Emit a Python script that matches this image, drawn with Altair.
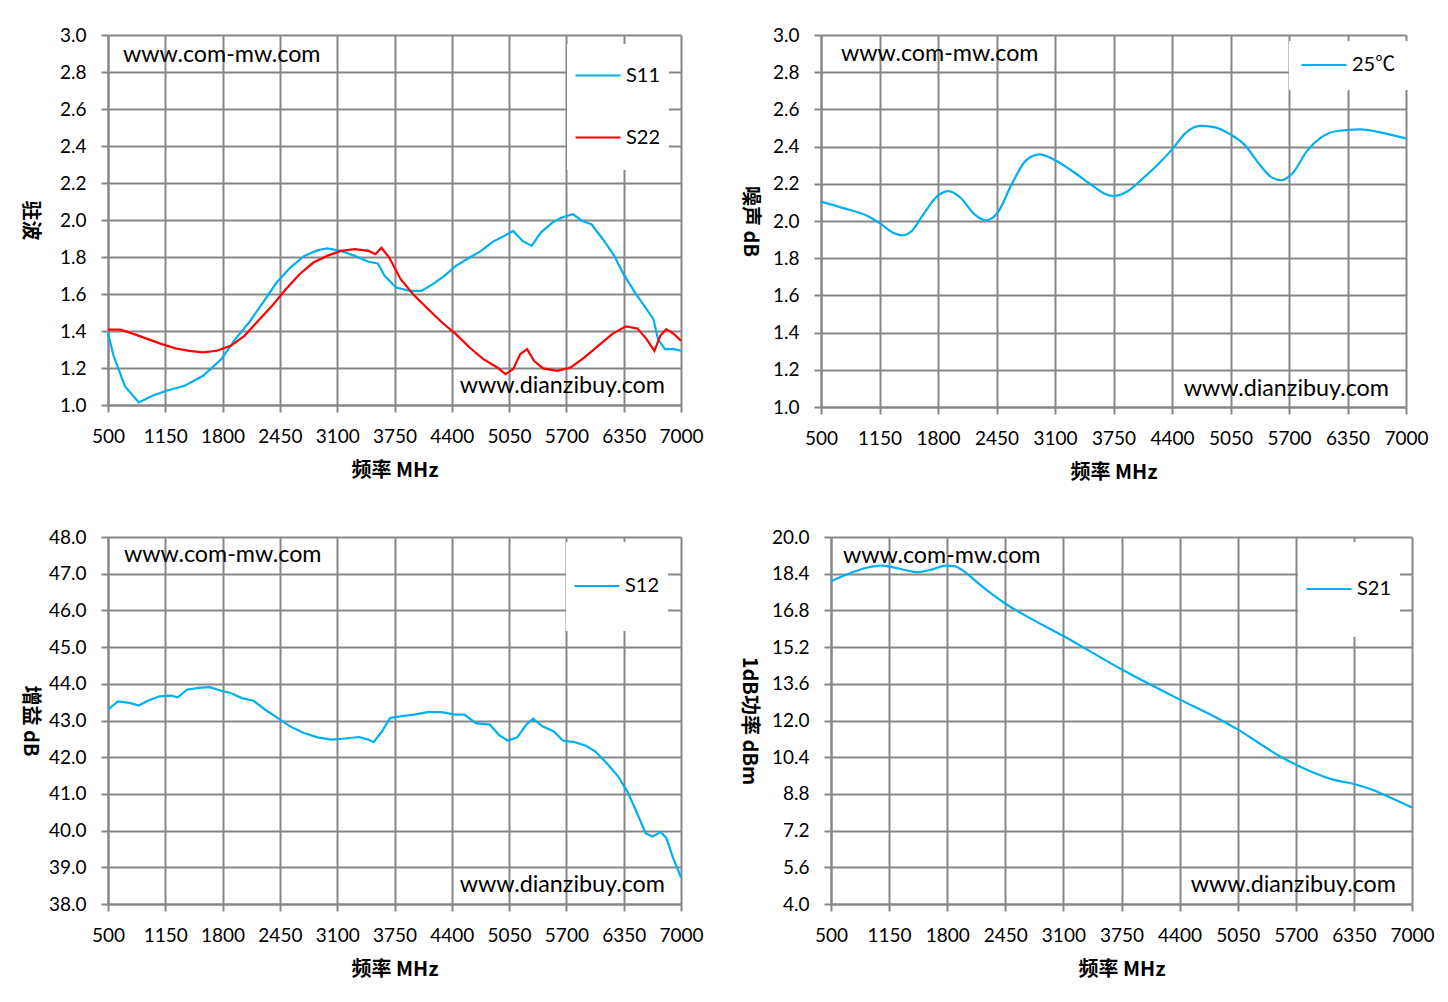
import altair as alt
import pandas as pd

# ---------------- data ----------------
X_TICKS = [500, 1150, 1800, 2450, 3100, 3750, 4400, 5050, 5700, 6350, 7000]

S11_F = [500, 563, 693, 849, 1006, 1162, 1370, 1579, 1787, 1944, 2100, 2257, 2413, 2569, 2726,
         2882, 2986, 3143, 3299, 3455, 3560, 3638, 3768, 3925, 4055, 4185, 4316, 4446, 4602,
         4733, 4863, 4993, 5097, 5202, 5306, 5410, 5540, 5645, 5775, 5880, 5984, 6114, 6244,
         6348, 6479, 6609, 6687, 6739, 6818, 6922, 7000]
S11_V = [1.39, 1.266, 1.10, 1.014, 1.05, 1.077, 1.104, 1.158, 1.248, 1.356, 1.446, 1.554, 1.662,
         1.743, 1.806, 1.837, 1.846, 1.833, 1.806, 1.774, 1.765, 1.698, 1.635, 1.617, 1.617,
         1.653, 1.698, 1.752, 1.797, 1.833, 1.882, 1.914, 1.941, 1.887, 1.86, 1.932, 1.986,
         2.013, 2.031, 1.995, 1.977, 1.896, 1.806, 1.707, 1.608, 1.518, 1.464, 1.356, 1.302,
         1.302, 1.293]

S22_F = [500, 641, 797, 953, 1110, 1266, 1423, 1579, 1735, 1892, 2048, 2204, 2361, 2517, 2673,
         2830, 2986, 3143, 3299, 3455, 3534, 3601, 3690, 3820, 3977, 4133, 4290, 4446, 4602,
         4758, 4915, 5009, 5097, 5176, 5254, 5332, 5436, 5593, 5749, 5905, 6061, 6218, 6374,
         6505, 6609, 6698, 6765, 6833, 6922, 7000]
S22_V = [1.407, 1.407, 1.383, 1.356, 1.329, 1.306, 1.293, 1.284, 1.293, 1.32, 1.374, 1.455, 1.536,
         1.626, 1.707, 1.77, 1.806, 1.833, 1.842, 1.833, 1.815, 1.85, 1.797, 1.68, 1.59, 1.518,
         1.446, 1.383, 1.311, 1.248, 1.203, 1.167, 1.194, 1.275, 1.302, 1.239, 1.198, 1.185,
         1.203, 1.257, 1.32, 1.383, 1.425, 1.414, 1.356, 1.293, 1.374, 1.41, 1.383, 1.347]

NF_F = [500, 758, 1017, 1172, 1301, 1404, 1508, 1637, 1792, 1921, 2050, 2205, 2334, 2463, 2618,
        2773, 2928, 3083, 3290, 3497, 3652, 3755, 3910, 4065, 4246, 4401, 4556, 4711, 4866,
        5047, 5202, 5357, 5512, 5615, 5744, 5899, 6054, 6235, 6493, 6700, 7000]
NF_V = [2.104, 2.068, 2.027, 1.982, 1.937, 1.923, 1.946, 2.036, 2.134, 2.161, 2.125, 2.036, 2.004,
        2.045, 2.197, 2.323, 2.358, 2.332, 2.269, 2.197, 2.147, 2.134, 2.161, 2.224, 2.305,
        2.385, 2.475, 2.511, 2.505, 2.466, 2.412, 2.314, 2.233, 2.219, 2.26, 2.376, 2.448,
        2.484, 2.493, 2.478, 2.444]

S12_F = [500, 614, 745, 849, 953, 1083, 1213, 1291, 1395, 1525, 1655, 1785, 1889, 2019, 2150,
         2280, 2410, 2566, 2722, 2878, 3034, 3190, 3347, 3451, 3513, 3607, 3700, 3815, 3971,
         4127, 4283, 4439, 4543, 4674, 4830, 4934, 5038, 5142, 5246, 5324, 5428, 5558, 5662,
         5792, 5922, 6026, 6156, 6286, 6390, 6494, 6599, 6677, 6771, 6833, 6911, 7000]
S12_V = [43.30, 43.52, 43.48, 43.41, 43.54, 43.66, 43.68, 43.63, 43.84, 43.89, 43.91, 43.81, 43.75,
         43.61, 43.54, 43.30, 43.09, 42.84, 42.66, 42.54, 42.48, 42.51, 42.55, 42.48, 42.41,
         42.70, 43.07, 43.11, 43.16, 43.23, 43.23, 43.16, 43.16, 42.93, 42.89, 42.61, 42.45,
         42.54, 42.89, 43.05, 42.84, 42.70, 42.45, 42.41, 42.31, 42.16, 41.84, 41.48, 41.07,
         40.52, 39.93, 39.84, 39.96, 39.80, 39.25, 38.73]

S21_F = [500, 718, 926, 1056, 1185, 1341, 1471, 1627, 1782, 1886, 1990, 2146, 2302, 2457, 2691,
         3106, 3366, 3755, 4404, 4820, 5053, 5287, 5521, 5703, 5910, 6118, 6351, 6585, 6767, 7000]
S21_V = [18.07, 18.43, 18.68, 18.75, 18.69, 18.55, 18.47, 18.58, 18.75, 18.72, 18.50, 17.99, 17.51,
         17.08, 16.54, 15.67, 15.09, 14.22, 12.91, 12.11, 11.60, 11.02, 10.44, 10.07, 9.71,
         9.42, 9.23, 8.94, 8.62, 8.21]

VSWR_TICKS = [1.0, 1.2, 1.4, 1.6, 1.8, 2.0, 2.2, 2.4, 2.6, 2.8, 3.0]
NF_TICKS = [1.0, 1.2, 1.4, 1.6, 1.8, 2.0, 2.2, 2.4, 2.6, 2.8, 3.0]
GAIN_TICKS = [38.0, 39.0, 40.0, 41.0, 42.0, 43.0, 44.0, 45.0, 46.0, 47.0, 48.0]
P1DB_TICKS = [4.0, 5.6, 7.2, 8.8, 10.4, 12.0, 13.6, 15.2, 16.8, 18.4, 20.0]

WATERMARK_TOP = ["www.com-mw.com"]
WATERMARK_BOTTOM = ["www.dianzibuy.com"]
X_TITLE = "频率 MHz"

BLUE = "#00B0F0"
RED = "#FF0000"
GRID = "#878787"
FONT = "Lato, Noto Sans CJK SC"
TFONT = "Noto Sans CJK SC"


def series_df(name, f, v):
    return pd.DataFrame({"f": f, "v": v, "s": name})


def panel(df, names, colors, ydom, yticks, ytitle, w, h, title_x, leg, interp, wm):
    lx, ly, lpad, clip, rowpad = leg
    line = alt.Chart(df).mark_line(strokeWidth=2.2, interpolate=interp).encode(
        x=alt.X("f:Q",
                scale=alt.Scale(domain=[500, 7000], nice=False, zero=False),
                axis=alt.Axis(values=X_TICKS, format="d", title=X_TITLE,
                              labelOverlap=False, labelFlush=False,
                              titleY=65, titleBaseline="middle")),
        y=alt.Y("v:Q",
                scale=alt.Scale(domain=ydom, nice=False, zero=False),
                axis=alt.Axis(values=yticks, format=".1f", title=ytitle,
                              labelOverlap=False, labelFlush=False,
                              titleAngle=90, titleX=title_x, titleY=h / 2,
                              titleAlign="center", titleBaseline="middle")),
        color=alt.Color("s:N",
                        scale=alt.Scale(domain=names, range=colors),
                        legend=alt.Legend(orient="none", legendX=lx, legendY=ly,
                                          title=None, symbolType="stroke",
                                          symbolSize=2025, symbolStrokeWidth=2.2,
                                          labelFont=FONT, labelFontSize=20,
                                          labelColor="#000000", labelOffset=4,
                                          padding=lpad, clipHeight=clip,
                                          rowPadding=rowpad, fillColor="white",
                                          strokeColor="white")),
        order=alt.Order("f:Q"),
    )
    tx1, ty1, tx2, ty2 = wm
    t1 = alt.Chart(pd.DataFrame({"t": WATERMARK_TOP})).mark_text(
        align="left", baseline="middle", font=FONT, fontSize=23.3, color="#000000"
    ).encode(text="t:N", x=alt.value(tx1), y=alt.value(ty1))
    t2 = alt.Chart(pd.DataFrame({"t": WATERMARK_BOTTOM})).mark_text(
        align="right", baseline="middle", font=FONT, fontSize=23.3, color="#000000"
    ).encode(text="t:N", x=alt.value(tx2), y=alt.value(ty2))
    return alt.layer(line, t1, t2).properties(width=w, height=h)


p1 = panel(pd.concat([series_df("S11", S11_F, S11_V), series_df("S22", S22_F, S22_V)]),
           ["S11", "S22"], [BLUE, RED], [1.0, 3.0], VSWR_TICKS, "驻波",
           573, 370, -79, (459, 9, 7, 49, 13), "linear", (15, 20, 557, 351))
p2 = panel(series_df("25℃", NF_F, NF_V), ["25℃"], [BLUE], [1.0, 3.0], NF_TICKS, "噪声 dB",
           585, 372, -72, (468, 6, 11, 26, 0), "monotone", (20, 19, 568, 354))
p3 = panel(series_df("S12", S12_F, S12_V), ["S12"], [BLUE], [38.0, 48.0], GAIN_TICKS, "增益 dB",
           573, 367, -79, (458, 5, 7, 74, 0), "linear", (16, 18, 557, 348))
p4 = panel(series_df("S21", S21_F, S21_V), ["S21"], [BLUE], [4.0, 20.0], P1DB_TICKS, "1dB功率 dBm",
           581, 367, -83, (467, 5, 7, 80, 0), "monotone", (12, 19, 565, 348))

top = alt.hconcat(p1, p2, spacing=35).resolve_scale(color="independent")
bottom = alt.hconcat(p3, p4, spacing=34).resolve_scale(color="independent")
chart = alt.vconcat(top, bottom, spacing=46).resolve_scale(color="independent").properties(
    padding={"left": 11, "top": 18, "right": 0, "bottom": 4}
).configure_view(stroke=None).configure_axis(
    grid=True, gridColor=GRID, gridWidth=2, gridOpacity=1,
    domainColor=GRID, domainWidth=2, tickColor=GRID, tickWidth=2, tickSize=7,
    labelFont=FONT, labelFontSize=19, labelColor="#000000", labelPadding=15,
    titleFont=TFONT, titleFontSize=20, titleFontWeight="bold", titleColor="#000000",
).configure_axisY(labelPadding=15)

chart.save("out.html", embed_options={"renderer": "svg", "actions": False})
